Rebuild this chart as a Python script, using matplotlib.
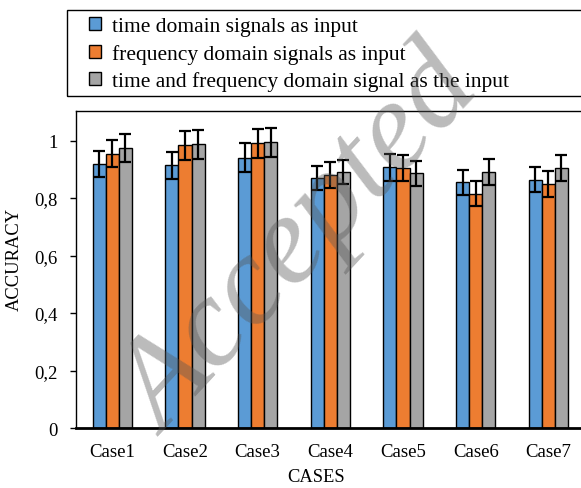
import matplotlib
matplotlib.use('Agg')
import matplotlib.pyplot as plt
from matplotlib.patches import Rectangle
import numpy as np

# values
cases = ["Case1", "Case2", "Case3", "Case4", "Case5", "Case6", "Case7"]
time_acc = [0.919, 0.915, 0.941, 0.870, 0.907, 0.855, 0.864]
freq_acc = [0.954, 0.983, 0.990, 0.880, 0.904, 0.815, 0.849]
both_acc = [0.975, 0.987, 0.994, 0.891, 0.886, 0.890, 0.904]
time_err = [0.044, 0.047, 0.049, 0.043, 0.048, 0.043, 0.043]
freq_err = [0.047, 0.050, 0.051, 0.045, 0.045, 0.044, 0.044]
both_err = [0.049, 0.050, 0.050, 0.043, 0.044, 0.045, 0.045]
labels = ["time domain signals as input",
          "frequency domain signals as input",
          "time and frequency domain signal as the input"]
colors = ["#5B9BD5", "#ED7D31", "#A5A5A5"]
yticks = [0, 0.2, 0.4, 0.6, 0.8, 1.0]

plt.rcParams['font.family'] = ['Liberation Serif', 'DejaVu Serif']

fig = plt.figure(figsize=(5.81, 4.89), dpi=100)
ax = fig.add_axes([76 / 581, 1 - 429 / 489, 505 / 581, (429 - 112) / 489])

x = np.arange(len(cases))
w = 0.18
series = [(time_acc, time_err), (freq_acc, freq_err), (both_acc, both_err)]
for i, (vals, errs) in enumerate(series):
    ax.bar(x + (i - 1) * w, vals, width=w, color=colors[i], edgecolor='black',
           linewidth=1.0, label=labels[i], zorder=2,
           yerr=errs, error_kw=dict(ecolor='black', elinewidth=1.6, capsize=4.4, capthick=1.6))

ax.set_xlim(-0.5, 6.45)
ax.set_ylim(0, 1.103)
ax.set_xticks(x)
ax.set_xticklabels(cases, fontsize=13.5)
ax.set_yticks(yticks)
ax.set_yticklabels([f"{t:g}".replace('.', ',') for t in yticks], fontsize=13.5)
ax.tick_params(axis='x', length=0, pad=11)
ax.tick_params(axis='y', length=4, width=1, pad=9)
ax.spines['right'].set_visible(False)
ax.spines['bottom'].set_linewidth(2)
ax.spines['left'].set_linewidth(1)
ax.spines['top'].set_linewidth(1)

fig.text(14 / 581, 1 - 259 / 489, "ACCURACY", rotation=90, ha='center', va='center', fontsize=13.3)
fig.text(316 / 581, 1 - 478 / 489, "CASES", ha='center', va='center', fontsize=13.3)

# legend with a separate frame box
leg = fig.legend(loc='upper left', bbox_to_anchor=(89 / 581, 1 - 18 / 489), frameon=False,
                 fontsize=15.5, handlelength=0.56, handleheight=0.56, handletextpad=0.5,
                 labelspacing=0.36, borderaxespad=0, borderpad=0)
for h in leg.legend_handles:
    h.set_linewidth(1)
fig.patches.append(Rectangle((67 / 581, 1 - 97 / 489), 530 / 581, 86 / 489,
                             transform=fig.transFigure, fill=False, edgecolor='black',
                             linewidth=1.0))

# watermark
fig.text(0.52, 0.5, "Accepted", rotation=47, ha='center', va='center', fontsize=92,
         style='italic', color='#555555', alpha=0.4, zorder=10)

fig.savefig("out.png", dpi=100)
